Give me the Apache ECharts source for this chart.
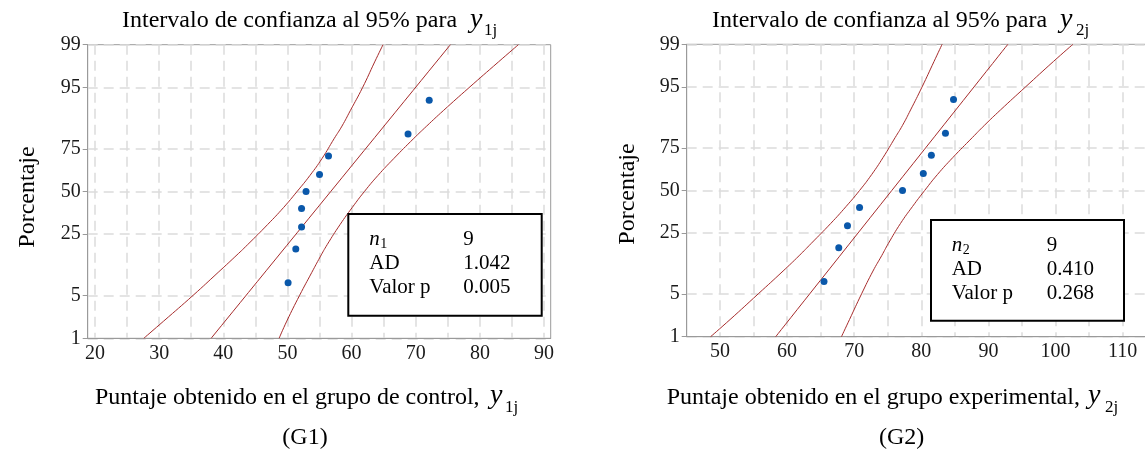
<!DOCTYPE html>
<html>
<head>
<meta charset="utf-8">
<script src="https://cdn.jsdelivr.net/npm/echarts@6/dist/echarts.min.js"></script>
<style>
  html, body { margin: 0; padding: 0; background: #fff; }
  #main { width: 1145px; height: 455px; }
</style>
</head>
<body>
<div id="main"></div>
<script>
// posiciones de graficacion (%) de los 9 datos ordenados
var pctPos = [7.4, 18.1, 28.7, 39.4, 50, 60.6, 71.3, 81.9, 92.6];
// puntajes ordenados
var y1 = [50.1, 51.3, 52.2, 52.2, 52.9, 55.0, 56.4, 68.8, 72.1];
var y2 = [65.5, 67.7, 69.0, 70.8, 77.2, 80.3, 81.5, 83.6, 84.8];

var bandPct = [1, 2, 5, 10, 15, 20, 30, 40, 50, 60, 70, 80, 85, 90, 95, 98, 99];
var lo1 = [27.6, 30.7, 35.3, 39.2, 41.8, 43.8, 46.9, 49.4, 51.5, 53.5, 55.4, 57.3, 58.5, 59.8, 61.7, 63.6, 64.9];
var hi1 = [48.7, 49.9, 51.9, 53.8, 55.1, 56.2, 58.2, 60.1, 62.0, 64.1, 66.6, 69.7, 71.7, 74.3, 78.3, 82.9, 86.0];
var lo2 = [48.6, 51.5, 55.7, 59.4, 61.8, 63.6, 66.5, 68.8, 70.8, 72.6, 74.3, 76.1, 77.2, 78.4, 80.1, 81.9, 83.1];
var hi2 = [68.1, 69.3, 71.1, 72.8, 74.1, 75.1, 76.9, 78.7, 80.5, 82.4, 84.7, 87.6, 89.4, 91.8, 95.5, 99.7, 102.6];
// recta ajustada (extremos en 1% y 99%)
var fitPct = [1, 99];
var fit1 = [38.1, 75.4];
var fit2 = [58.3, 92.9];

var yTicks = [1, 5, 25, 50, 75, 95, 99];
var xLabels1 = [20, 30, 40, 50, 60, 70, 80, 90];
var xGrid1 = [20, 25, 30, 35, 40, 45, 50, 55, 60, 65, 70, 75, 80, 85, 90];
var xLabels2 = [50, 60, 70, 80, 90, 100, 110];
var xGrid2 = [50, 55, 60, 65, 70, 75, 80, 85, 90, 95, 100, 105, 110];

var statNames = ['AD', 'Valor p'];
var stats1 = ['9', '1.042', '0.005'];
var stats2 = ['9', '0.410', '0.268'];

// escala de probabilidad normal
function normInv(p) {
  var a = [-3.969683028665376e+01, 2.209460984245205e+02, -2.759285104469687e+02, 1.383577518672690e+02, -3.066479806614716e+01, 2.506628277459239e+00];
  var b = [-5.447609879822406e+01, 1.615858368580409e+02, -1.556989798598866e+02, 6.680131188771972e+01, -1.328068155288572e+01];
  var c = [-7.784894002430293e-03, -3.223964580411365e-01, -2.400758277161838e+00, -2.549732539343734e+00, 4.374664141464968e+00, 2.938163982698783e+00];
  var d = [7.784695709041462e-03, 3.224671290700398e-01, 2.445134137142996e+00, 3.754408661907416e+00];
  var pl = 0.02425, q, r;
  if (p < pl) {
    q = Math.sqrt(-2 * Math.log(p));
    return (((((c[0]*q+c[1])*q+c[2])*q+c[3])*q+c[4])*q+c[5]) / ((((d[0]*q+d[1])*q+d[2])*q+d[3])*q+1);
  }
  if (p > 1 - pl) {
    q = Math.sqrt(-2 * Math.log(1 - p));
    return -(((((c[0]*q+c[1])*q+c[2])*q+c[3])*q+c[4])*q+c[5]) / ((((d[0]*q+d[1])*q+d[2])*q+d[3])*q+1);
  }
  q = p - 0.5; r = q * q;
  return (((((a[0]*r+a[1])*r+a[2])*r+a[3])*r+a[4])*r+a[5])*q / (((((b[0]*r+b[1])*r+b[2])*r+b[3])*r+b[4])*r+1);
}
function z(pct) { return normInv(pct / 100); }
function pairs(xs, ps) { return xs.map(function (x, i) { return [x, z(ps[i])]; }); }

var yZ = yTicks.map(z);
function yFmt(v) {
  var best = 0;
  for (var i = 1; i < yZ.length; i++) if (Math.abs(yZ[i] - v) < Math.abs(yZ[best] - v)) best = i;
  return String(yTicks[best]);
}

var serif = 'Liberation Serif';
var gray = '#9a9a9a';
var red = '#a62b2b';
var blue = '#0a58aa';

function grid(left, top, width, height) {
  return { left: left, top: top, width: width, height: height, show: true,
           borderColor: gray, borderWidth: 1, backgroundColor: '#fff', outerBoundsMode: 'none' };
}
function xAxis(idx, min, max, labels, gridVals) {
  return {
    type: 'value', gridIndex: idx, min: min, max: max, position: 'bottom',
    axisLine: { show: true, onZero: false, lineStyle: { color: gray, width: 1 } },
    axisTick: { show: false, customValues: gridVals },
    axisLabel: { customValues: labels, margin: 5, fontFamily: serif, fontSize: 20, color: '#1a1a1a' },
    splitLine: { show: true, lineStyle: { color: '#dcdcdc', width: 1.5, type: [10, 6] } }
  };
}
function yAxis(idx) {
  return {
    type: 'value', gridIndex: idx, min: z(1), max: z(99), position: 'left',
    axisLine: { show: true, onZero: false, lineStyle: { color: gray, width: 1 } },
    axisTick: { show: true, inside: false, length: 5, customValues: yZ, lineStyle: { color: gray } },
    axisLabel: { customValues: yZ, formatter: yFmt, margin: 7, padding: [0, 0, 4, 0],
                 fontFamily: serif, fontSize: 20, color: '#1a1a1a' },
    splitLine: { show: true, lineStyle: { color: '#dcdcdc', width: 1.5, type: [10, 6] } }
  };
}
function lineSeries(idx, data) {
  return { type: 'line', xAxisIndex: idx, yAxisIndex: idx, data: data, smooth: 0.5,
           showSymbol: false, silent: true, z: 3,
           lineStyle: { color: red, width: 1, opacity: 1 } };
}
function pointSeries(idx, xs) {
  return { type: 'scatter', xAxisIndex: idx, yAxisIndex: idx, data: pairs(xs, pctPos),
           symbol: 'circle', symbolSize: 7, z: 4, itemStyle: { color: blue, opacity: 1 } };
}

function txt(x, y, text, size, opt) {
  opt = opt || {};
  return { type: 'text', z: 200, x: x, y: y, rotation: opt.rot || 0,
    style: { text: text, fontFamily: serif, fontSize: size, fontStyle: opt.italic ? 'italic' : 'normal',
             fill: '#000', align: opt.align || 'left', verticalAlign: 'middle' } };
}
function statBox(x, y, w, h, sub, vals, tx, vx, ly) {
  return [
    { type: 'rect', z: 150, shape: { x: x, y: y, width: w, height: h },
      style: { fill: '#fff', stroke: '#000', lineWidth: 2 } },
    txt(tx, ly[0], 'n', 21, { italic: true }),
    txt(tx + 11, ly[0] + 5, sub, 14),
    txt(tx, ly[1], statNames[0], 21),
    txt(tx, ly[2], statNames[1], 21),
    txt(vx, ly[0], vals[0], 21),
    txt(vx, ly[1], vals[1], 21),
    txt(vx, ly[2], vals[2], 21)
  ];
}

var chart = echarts.init(document.getElementById('main'));

var option = {
  backgroundColor: '#fff',
  animation: false,
  grid: [grid(87.7, 44.7, 463, 293.6), grid(686.7, 44.3, 459.4, 292.4)],
  xAxis: [xAxis(0, 18.86, 91.04, xLabels1, xGrid1), xAxis(1, 45.04, 113.5, xLabels2, xGrid2)],
  yAxis: [yAxis(0), yAxis(1)],
  series: [
    lineSeries(0, pairs(lo1, bandPct)),
    lineSeries(0, pairs(fit1, fitPct)),
    lineSeries(0, pairs(hi1, bandPct)),
    pointSeries(0, y1),
    lineSeries(1, pairs(lo2, bandPct)),
    lineSeries(1, pairs(fit2, fitPct)),
    lineSeries(1, pairs(hi2, bandPct)),
    pointSeries(1, y2)
  ],
  graphic: [
    // titulos
    txt(122, 21, 'Intervalo de confianza al 95% para', 24),
    txt(470, 19.5, 'y', 28, { italic: true }),
    txt(484, 31, '1j', 17),
    txt(712, 21, 'Intervalo de confianza al 95% para', 24),
    txt(1060, 19.5, 'y', 28, { italic: true }),
    txt(1076, 31, '2j', 17),
    // ejes y
    txt(28, 197, 'Porcentaje', 24, { rot: Math.PI / 2, align: 'center' }),
    txt(628, 194, 'Porcentaje', 24, { rot: Math.PI / 2, align: 'center' }),
    // ejes x
    txt(95, 398, 'Puntaje obtenido en el grupo de control,', 24),
    txt(490, 396, 'y', 28, { italic: true }),
    txt(505, 407.5, '1j', 17),
    txt(305, 438, '(G1)', 24, { align: 'center' }),
    txt(666.7, 398, 'Puntaje obtenido en el grupo experimental,', 24),
    txt(1088, 396, 'y', 28, { italic: true }),
    txt(1105, 407.5, '2j', 17),
    txt(901.7, 438, '(G2)', 24, { align: 'center' })
  ].concat(
    statBox(348.3, 214, 193.4, 101.7, '1', stats1, 369.3, 463.3, [239.3, 263.3, 287.3]),
    statBox(931, 220, 193, 100.7, '2', stats2, 951.7, 1046.7, [245, 269.3, 293.3])
  )
};

chart.setOption(option);
</script>
</body>
</html>
